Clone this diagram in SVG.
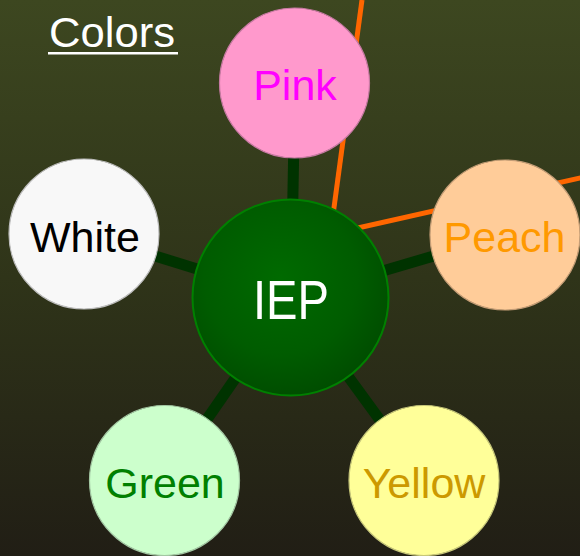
<svg xmlns="http://www.w3.org/2000/svg" width="580" height="556" viewBox="0 0 580 556">
<defs>
<linearGradient id="bg" x1="0" y1="0" x2="0" y2="1">
<stop offset="0" stop-color="#3d4720"/>
<stop offset="0.5" stop-color="#2f3419"/>
<stop offset="1" stop-color="#211e15"/>
</linearGradient>
<radialGradient id="hub" cx="0.45" cy="0.4" r="0.65">
<stop offset="0" stop-color="#006a00"/>
<stop offset="0.6" stop-color="#005c00"/>
<stop offset="1" stop-color="#004a00"/>
</radialGradient>
<style>
.link{stroke:#003300;stroke-width:11;fill:none}
.orange{stroke:#ff6600;stroke-width:5;fill:none}
.node{stroke-width:1.2}
.lbl{font-family:"Liberation Sans",Arial,sans-serif;font-size:43px;text-anchor:middle}
</style>
</defs>
<rect width="580" height="556" fill="url(#bg)"/>
<g id="title">
<text x="49" y="47" font-family="'Liberation Sans',Arial,sans-serif" font-size="43" fill="#ffffff" textLength="126" lengthAdjust="spacingAndGlyphs">Colors</text>
<rect x="48" y="52" width="130" height="2.5" fill="#ffffff"/>
</g>
<g id="connectors">
<line class="orange" x1="362" y1="0" x2="333" y2="215"/>
<line class="orange" x1="340" y1="232" x2="582" y2="177.5"/>
<line class="link" x1="291" y1="298" x2="295" y2="83"/>
<line class="link" x1="291" y1="298" x2="505" y2="235"/>
<line class="link" x1="291" y1="298" x2="84" y2="234"/>
<line class="link" x1="291" y1="298" x2="164.5" y2="480.5"/>
<line class="link" x1="291" y1="298" x2="424" y2="480.5"/>
</g>
<g id="pink">
<circle class="node" cx="294.5" cy="83" r="75" fill="#ff99cc" stroke="#c77aa3"/>
<text class="lbl" x="295" y="100" fill="#ff00ff">Pink</text>
</g>
<g id="peach">
<circle class="node" cx="505" cy="235" r="75" fill="#ffcc99" stroke="#c49d76"/>
<text class="lbl" x="504.5" y="252" fill="#ff9900">Peach</text>
</g>
<g id="white">
<circle class="node" cx="84" cy="234" r="75" fill="#f8f8f8" stroke="#bdbdbd"/>
<text class="lbl" x="85" y="252" fill="#000000">White</text>
</g>
<g id="green">
<circle class="node" cx="164.5" cy="480.5" r="75" fill="#ccffcc" stroke="#a3c7a3"/>
<text class="lbl" x="165" y="498" fill="#008000">Green</text>
</g>
<g id="yellow">
<circle class="node" cx="424" cy="480.5" r="75" fill="#ffff99" stroke="#c7c77a"/>
<text class="lbl" x="424" y="498" fill="#cc9900">Yellow</text>
</g>
<g id="iep">
<circle cx="290.5" cy="297.5" r="98" fill="url(#hub)" stroke="#008000" stroke-width="2"/>
<text x="291" y="319" font-family="'Liberation Sans',Arial,sans-serif" font-size="56" fill="#ffffff" text-anchor="middle" textLength="76" lengthAdjust="spacingAndGlyphs">IEP</text>
</g>
</svg>
